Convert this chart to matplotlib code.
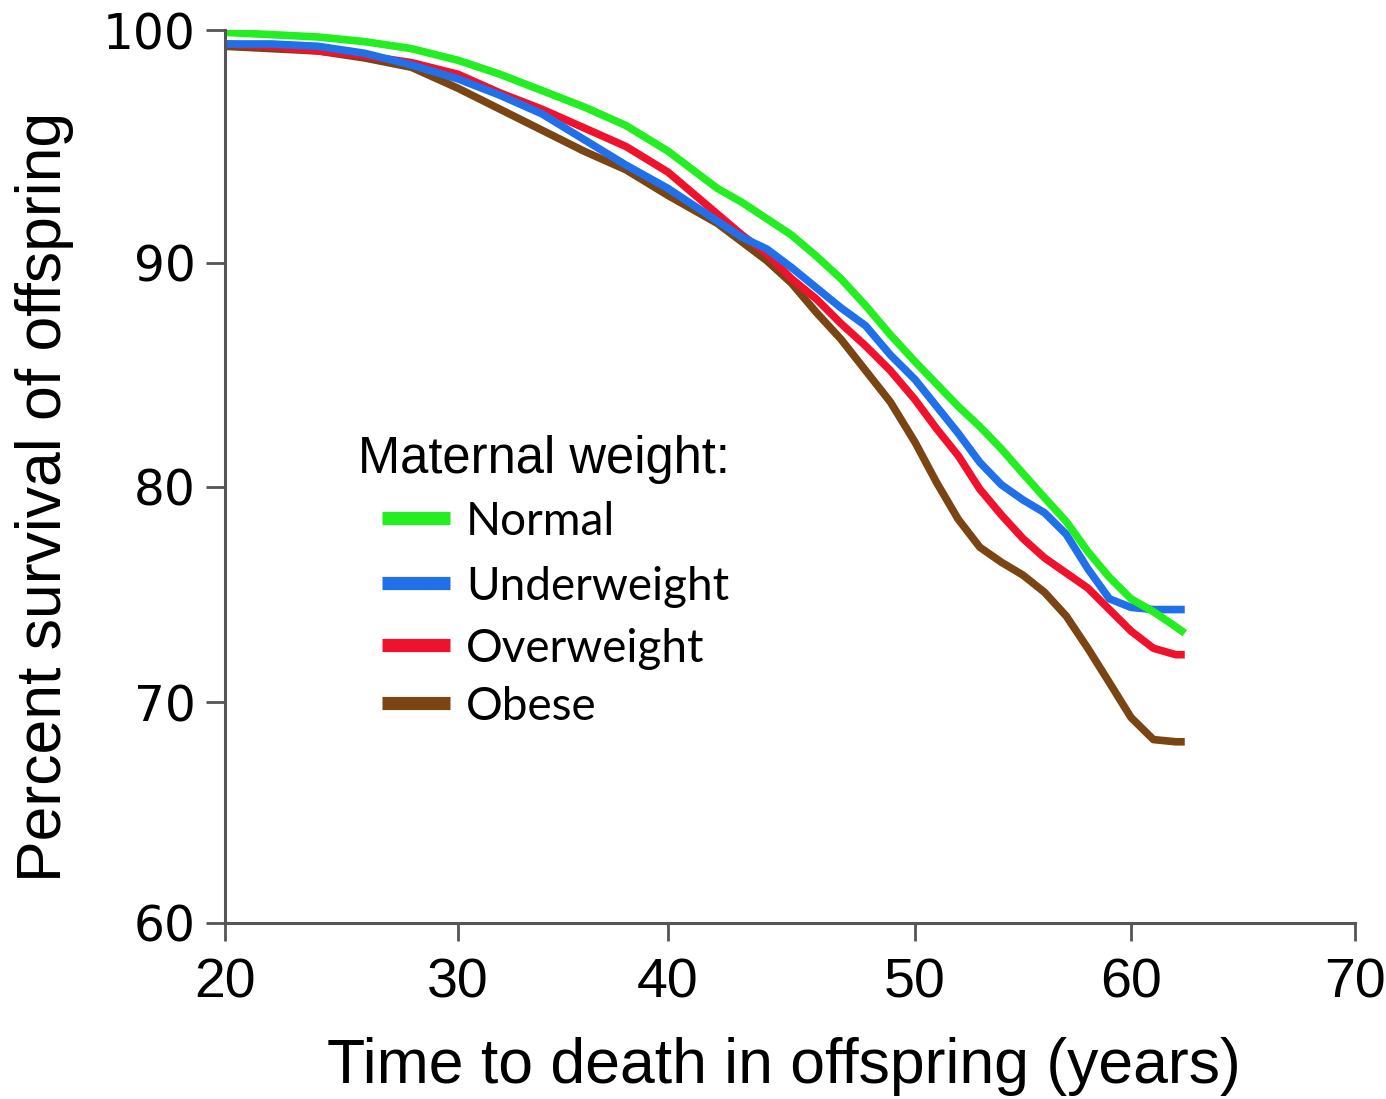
import numpy as np
import matplotlib
matplotlib.use("Agg")
import matplotlib.pyplot as plt
from matplotlib import font_manager as fm
from matplotlib.lines import Line2D

# survival curves
years = [20, 22, 24, 26, 28, 30, 32, 34, 36, 38, 40, 42, 43, 44, 45, 46, 47, 48,
         49, 50, 51, 52, 53, 54, 55, 56, 57, 58, 59, 60, 61, 62, 62.4]
normal = [99.9, 99.8, 99.7, 99.5, 99.2, 98.7, 98.1, 97.4, 96.7, 95.9, 94.8, 93.2,
          92.6, 91.9, 91.2, 90.3, 89.3, 88.1, 86.8, 85.6, 84.6, 83.6, 82.7, 81.7,
          80.6, 79.5, 78.4, 77.0, 75.8, 74.8, 74.2, 73.5, 73.2]
underweight = [99.4, 99.4, 99.3, 99.0, 98.5, 97.9, 97.2, 96.4, 95.3, 94.2, 93.2, 91.8,
               91.1, 90.6, 89.8, 88.9, 88.0, 87.2, 85.9, 84.8, 83.6, 82.4, 81.1, 80.1,
               79.4, 78.8, 77.8, 76.2, 74.8, 74.4, 74.3, 74.3, 74.3]
overweight = [99.4, 99.3, 99.1, 98.9, 98.6, 98.1, 97.3, 96.6, 95.8, 95.0, 93.9, 92.1,
              91.2, 90.4, 89.3, 88.4, 87.3, 86.3, 85.2, 83.9, 82.6, 81.4, 79.9, 78.7,
              77.6, 76.7, 76.0, 75.3, 74.3, 73.3, 72.5, 72.2, 72.2]
obese = [99.3, 99.2, 99.1, 98.8, 98.4, 97.5, 96.6, 95.7, 94.8, 94.0, 92.9, 91.7,
         90.9, 90.1, 89.1, 87.8, 86.6, 85.2, 83.8, 82.0, 80.2, 78.5, 77.2, 76.5,
         75.9, 75.1, 74.0, 72.5, 70.9, 69.3, 68.3, 68.2, 68.2]

labels = ["Normal", "Underweight", "Overweight", "Obese"]
colors = ["#22ee22", "#2070ea", "#f0122c", "#7b4413"]
xticks = [20, 30, 40, 50, 60, 70]
yticks = [60, 70, 80, 90, 100]

# the original axes are drawn with uneven tick spacing (pixel positions)
xtick_px = [225, 458, 668, 915, 1131, 1355]
ytick_px = [923, 702, 487, 263, 30]


def pick(families):
    for f in families:
        try:
            fm.findfont(fm.FontProperties(family=f), fallback_to_default=False)
            return f
        except ValueError:
            continue
    return "DejaVu Sans"


arial = pick(["Liberation Sans", "Arial"])
calib = pick(["Lato", "Open Sans"])


def extend(d, p):
    d = list(d); p = list(p)
    s0 = (p[1] - p[0]) / (d[1] - d[0])
    s1 = (p[-1] - p[-2]) / (d[-1] - d[-2])
    d = [d[0] - 1000] + d + [d[-1] + 1000]
    p = [p[0] - 1000 * s0] + p + [p[-1] + 1000 * s1]
    return np.array(d, float), np.array(p, float)


xd, xp = extend(xticks, xtick_px)
yd, yp = extend(yticks, [-v for v in ytick_px])

W, H = 1386, 1099
fig = plt.figure(figsize=(W / 100, H / 100), dpi=100)
ax = fig.add_axes([225 / W, 1 - 923 / H, (1355 - 225) / W, (923 - 30) / H])

ax.set_xscale("function", functions=(lambda v: np.interp(v, xd, xp),
                                     lambda v: np.interp(v, xp, xd)))
ax.set_yscale("function", functions=(lambda v: np.interp(v, yd, yp),
                                     lambda v: np.interp(v, yp, yd)))

for series, c in zip([obese, overweight, underweight, normal], colors[::-1]):
    ax.plot(years, series, color=c, lw=5.5, solid_capstyle="butt",
            solid_joinstyle="round")

ax.set_xlim(20, 70)
ax.set_ylim(60, 100)
ax.set_xticks(xticks)
ax.set_yticks(yticks)
ax.set_xticklabels([str(v) for v in xticks], family=arial, fontsize=40)
ax.set_yticklabels([str(v) for v in yticks], family="DejaVu Sans", fontsize=35)
ax.minorticks_off()

for s in ["top", "right"]:
    ax.spines[s].set_visible(False)
for s in ["left", "bottom"]:
    ax.spines[s].set_color("#555555")
    ax.spines[s].set_linewidth(2.2)
ax.tick_params(axis="y", length=14, width=2, color="#555555", pad=7)
ax.tick_params(axis="x", length=13, width=2, color="#555555", pad=12)

fig.text(784 / W, 1 - 1066 / H, "Time to death in offspring (years)",
         family=arial, fontsize=45, ha="center", va="center")
fig.text(45 / W, 1 - 497 / H, "Percent survival of offspring",
         family=arial, fontsize=45, ha="center", va="center", rotation=90)

# legend drawn by hand to follow the original placement
fig.text(358 / W, 1 - 460 / H, "Maternal weight:", family=arial, fontsize=36.5,
         ha="left", va="center")
entry_y = [518, 583, 645, 703]
for lab, c, yy in zip(labels, colors, entry_y):
    fig.add_artist(Line2D([382 / W, 450 / W], [1 - yy / H, 1 - yy / H],
                          color=c, lw=9.5, solid_capstyle="butt"))
    fig.text(466 / W, 1 - (yy + 4) / H, lab, family=calib, fontsize=33,
             ha="left", va="center")

fig.savefig("out.png", dpi=100)
